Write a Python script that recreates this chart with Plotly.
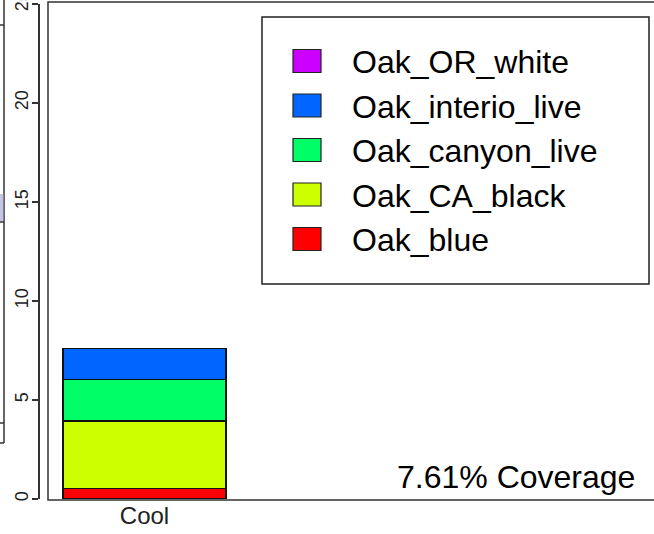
import plotly.graph_objects as go

# Stacked cover (%) for the single "Cool" class, bottom to top
categories = ["Cool"]
species = ["Oak_blue", "Oak_CA_black", "Oak_canyon_live", "Oak_interio_live", "Oak_OR_white"]
cover = [0.52, 3.42, 2.08, 1.59, 0.0]
colors = ["#FF0000", "#CCFF00", "#00FF66", "#0066FF", "#CC00FF"]
y_ticks = [0, 5, 10, 15, 20, 25]

W, H = 654, 534
ML, MR, MT, MB = 40, 0, 4, 35
PW, PH = W - ML - MR, H - MT - MB
FONT = "Liberation Sans, Arial, Helvetica, sans-serif"


def px_x(px):
    return (px - ML) / PW


def px_y(py):
    return (H - MB - py) / PH


fig = go.Figure()
for name, val, col in zip(species, cover, colors):
    fig.add_trace(go.Bar(
        x=categories, y=[val], name=name, width=1.0,
        marker=dict(color=col, line=dict(color="#111111", width=1.2)),
        showlegend=False,
    ))

shapes = []
annotations = []

# plot frame, offset from the y axis like base graphics
shapes.append(dict(type="rect", xref="paper", yref="paper",
                   x0=px_x(48), x1=px_x(700), y0=px_y(500), y1=px_y(2),
                   line=dict(color="#333333", width=1.5), fillcolor="rgba(0,0,0,0)"))

# legend box with swatches, top to bottom in reverse stacking order
shapes.append(dict(type="rect", xref="paper", yref="paper",
                   x0=px_x(262), x1=px_x(649), y0=px_y(284), y1=px_y(17),
                   line=dict(color="#222222", width=1.5), fillcolor="white"))
row0, step = 61, 44.5
for i, (name, col) in enumerate(zip(species[::-1], colors[::-1])):
    cy = row0 + i * step
    shapes.append(dict(type="rect", xref="paper", yref="paper",
                       x0=px_x(293), x1=px_x(321), y0=px_y(cy + 11.5), y1=px_y(cy - 11.5),
                       line=dict(color="#222222", width=1.2), fillcolor=col))
    annotations.append(dict(text=name, xref="paper", yref="paper",
                            x=px_x(350), y=px_y(cy + 1), xanchor="left", yanchor="middle",
                            showarrow=False, font=dict(family=FONT, size=32, color="black")))

# total cover label
total = sum(cover)
annotations.append(dict(text=f"{total:.2f}% Coverage", xref="paper", yref="paper",
                        x=px_x(637), y=px_y(477), xanchor="right", yanchor="middle",
                        showarrow=False, font=dict(family=FONT, size=32, color="black")))

# edge of the neighbouring panel at the far left
edge = "#333333"
shapes.append(dict(type="line", xref="paper", yref="paper",
                   x0=px_x(4), x1=px_x(4), y0=px_y(0), y1=px_y(443),
                   line=dict(color=edge, width=1.5)))
for yy in (25, 222, 423, 443):
    shapes.append(dict(type="line", xref="paper", yref="paper",
                       x0=px_x(-2), x1=px_x(4), y0=px_y(yy), y1=px_y(yy),
                       line=dict(color=edge, width=1.5)))
shapes.append(dict(type="rect", xref="paper", yref="paper",
                   x0=px_x(-2), x1=px_x(3.3), y0=px_y(221), y1=px_y(194),
                   line=dict(width=0), fillcolor="#c4c4e4"))

# x range chosen so the single bar (width 1) sits near the left of a wide panel
bar_left_px, bar_px = 63, 163
x0 = -0.5 - (bar_left_px - ML) / bar_px
x1 = x0 + PW / bar_px

fig.update_layout(
    width=W, height=H,
    margin=dict(l=ML, r=MR, t=MT, b=MB, pad=0),
    barmode="stack",
    plot_bgcolor="white", paper_bgcolor="white",
    font=dict(family=FONT, color="black"),
    shapes=shapes, annotations=annotations,
    xaxis=dict(type="category", range=[x0, x1], showgrid=False, zeroline=False,
               showline=False, ticks="", tickfont=dict(size=24, color="#222222"),
               automargin=False),
    yaxis=dict(range=[0, 25], tickvals=y_ticks, ticktext=[str(v) for v in y_ticks],
               showgrid=False, zeroline=False, showline=True, linecolor="#333333",
               linewidth=1.5, ticks="outside", ticklen=6, tickwidth=1.5,
               tickcolor="#333333", tickangle=-90, tickfont=dict(size=18, color="#222222"),
               ticklabelstandoff=-3, ticklabeloverflow="allow", automargin=False),
)

fig.write_html("out.html")
